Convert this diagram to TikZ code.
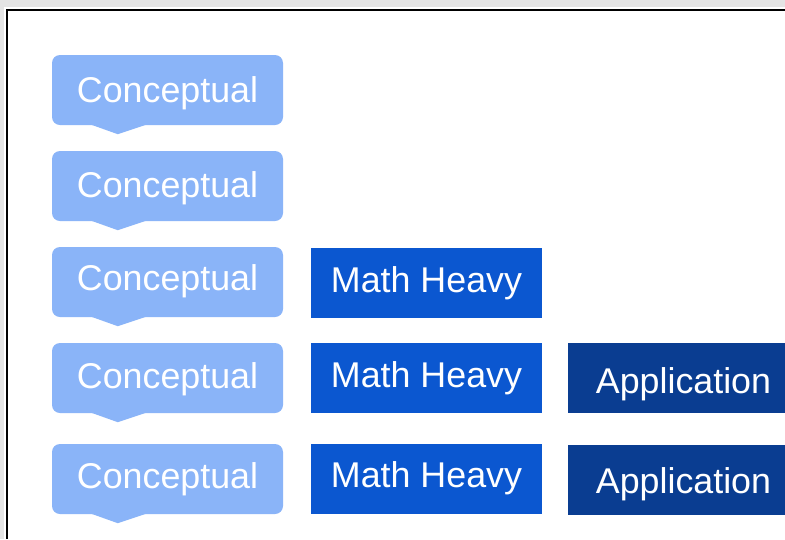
\documentclass[tikz,border=0pt]{standalone}
\usepackage{fontspec}
\setmainfont{Liberation Sans}
\usepackage{xcolor}
\usepackage{tikz}
\usetikzlibrary{calc}

\definecolor{conceptblue}{HTML}{8AB4F8}
\definecolor{mathblue}{HTML}{0B57D0}
\definecolor{appblue}{HTML}{0A3D91}
\definecolor{edgegray}{HTML}{E4E4E4}

\begin{document}
\begin{tikzpicture}[
  x=1pt, y=-1pt,
  tile/.style={rectangle, minimum width=231pt, minimum height=70pt,
    inner sep=0pt, text=white, text height=25pt, text depth=7pt,
    font=\fontsize{35.8}{40}\selectfont},
  concept/.style={tile, fill=conceptblue, rounded corners=8pt},
  mathbox/.style={tile, fill=mathblue},
  appbox/.style={tile, fill=appblue}
]
  \clip (0,0) rectangle (785,539);
  \fill[white] (0,0) rectangle (785,539);

  % window edge
  \fill[edgegray] (0,0) rectangle (785,7);
  \fill[edgegray] (0,0) rectangle (4,539);
  \draw[line width=2pt] (7,539) -- (7,10) -- (785,10);

  % first column (text height nudges the label down a bit)
  \node[concept, text height=31pt] (c1) at (167.5,90) {Conceptual};
  \node[concept, text height=29pt] (c2) at (167.5,186) {Conceptual};
  \node[concept, text height=23pt] (c3) at (167.5,282) {Conceptual};
  \node[concept, text height=27pt] (c4) at (167.5,378) {Conceptual};
  \node[concept] (c5) at (167.5,479) {Conceptual};

  % notches under the conceptual tiles
  \foreach \n in {c1,c2,c3,c4,c5}
    \fill[conceptblue] ($(\n.south west)+(38,-1)$) -- ($(\n.south west)+(66,9)$)
      -- ($(\n.south west)+(96,-1)$) -- cycle;

  % second column
  \node[mathbox, text height=26pt] (m3) at (426.5,282.5) {Math Heavy};
  \node[mathbox] (m4) at (426.5,378) {Math Heavy};
  \node[mathbox, text height=23pt] (m5) at (426.5,479) {Math Heavy};

  % third column
  \node[appbox, text height=37pt] (a4) at (683.5,378) {Application};
  \node[appbox, text height=34pt] (a5) at (683.5,479.5) {Application};
\end{tikzpicture}
\end{document}
